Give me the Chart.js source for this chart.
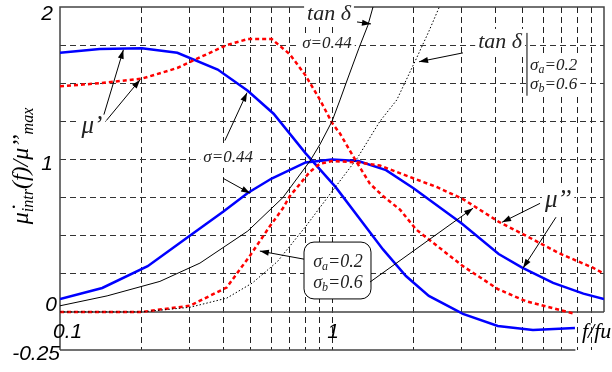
<!DOCTYPE html>
<html>
<head>
<meta charset="utf-8">
<script src="https://cdn.jsdelivr.net/npm/chart.js@4/dist/chart.umd.min.js"></script>
<style>
html, body { margin: 0; padding: 0; background: #fff; }
#wrap { width: 612px; height: 372px; }
</style>
</head>
<body>
<div id="wrap"><canvas id="chart" width="612" height="372"></canvas></div>
<script>
// sigma = 0.44 : mu' (blue), mu'' (blue), tan delta (thin black)
const xReal044 = [0.1, 0.14, 0.2, 0.27, 0.38, 0.49, 0.61, 0.8, 1.03, 1.54, 1.87, 2.27, 3.03, 4.07, 5.48, 7.82];
const muReal044 = [1.70, 1.725, 1.73, 1.70, 1.59, 1.45, 1.30, 1.04, 0.82, 0.41, 0.235, 0.105, -0.013, -0.092, -0.118, -0.105];

const xImag044 = [0.1, 0.143, 0.21, 0.3, 0.4, 0.49, 0.6, 0.8, 1.0, 1.25, 1.58, 2.0, 3.0, 4.1, 5.0, 6.5, 8.4, 10];
const muImag044 = [0.085, 0.157, 0.30, 0.50, 0.66, 0.78, 0.875, 0.98, 1.0, 0.99, 0.93, 0.81, 0.58, 0.38, 0.29, 0.19, 0.12, 0.085];

const xTan044 = [0.1, 0.149, 0.233, 0.327, 0.49, 0.66, 0.83, 0.904, 1.0, 1.07, 1.126, 1.256, 1.355, 1.415, 1.5];
const tan044 = [0.04, 0.105, 0.2, 0.32, 0.53, 0.75, 0.99, 1.10, 1.25, 1.39, 1.5, 1.73, 1.88, 2.0, 2.15];

// sigma_a = 0.2, sigma_b = 0.6 : mu' (red), mu'' (red), tan delta (dotted black)
const xRealAB = [0.1, 0.14, 0.2, 0.27, 0.327, 0.41, 0.49, 0.6, 0.7, 0.8, 0.904, 1.0, 1.07, 1.215, 1.38, 1.54, 1.78, 2.04, 3.03, 4.07, 5.16, 7.82];
const muRealAB = [1.48, 1.50, 1.53, 1.60, 1.67, 1.75, 1.79, 1.79, 1.69, 1.55, 1.39, 1.24, 1.17, 1.0, 0.84, 0.76, 0.67, 0.54, 0.30, 0.15, 0.07, -0.013];

const xImagAB = [0.1, 0.2, 0.3, 0.41, 0.5, 0.59, 0.66, 0.7, 0.763, 0.83, 0.9, 1.0, 1.25, 1.5, 2.0, 2.42, 3.03, 4.11, 5.16, 6.83, 9.1, 9.9];
const muImagAB = [0, 0, 0.04, 0.16, 0.37, 0.56, 0.68, 0.76, 0.84, 0.92, 0.97, 0.99, 0.98, 0.96, 0.875, 0.82, 0.74, 0.59, 0.50, 0.385, 0.29, 0.255];

const xTanAB = [0.1, 0.2, 0.3, 0.41, 0.51, 0.63, 0.8, 1.01, 1.24, 1.5, 1.73, 2.04, 2.27, 2.55];
const tanAB = [0, 0, 0.03, 0.09, 0.19, 0.33, 0.56, 0.80, 1.01, 1.25, 1.39, 1.66, 1.84, 2.05];

// tick labels
const yTickValues = [2, 1, 0, -0.25];
const yTickText = ['2', '1', '0', '-0.25'];
const xTickValues = [0.1, 1];
const xTickText = ['0.1', '1'];

const SANS = '"Liberation Sans", Arial, sans-serif';
const SERIF = '"Liberation Serif", "Times New Roman", serif';

function pts(xs, ys) {
    return xs.map((x, i) => ({ x: x, y: ys[i] }));
}

let xGrid = [];
for (let d of [0.1, 1]) {
    for (let k = 1; k <= 9; k++) xGrid.push(+(k * d).toFixed(2));
}
xGrid.push(10);

// labels on the plot, placed in data coordinates
const notes = [
    { parts: [['μ’', 0]], x: 0.131, y: 1.216, size: 25 },
    { parts: [['σ=0.44', 0]], x: 0.415, y: 1.013, size: 17 },
    { parts: [['tan δ', 0]], x: 0.975, y: 1.954, size: 22 },
    { parts: [['σ=0.44', 0]], x: 0.958, y: 1.758, size: 17 },
    { parts: [['tan δ', 0]], x: 4.15, y: 1.771, size: 22 },
    { parts: [['σ', 0], ['a', 1], ['=0.2', 0]], x: 5.35, y: 1.614, size: 17, align: 'left' },
    { parts: [['σ', 0], ['b', 1], ['=0.6', 0]], x: 5.35, y: 1.49, size: 17, align: 'left' },
    { parts: [['μ’’', 0]], x: 6.78, y: 0.732, size: 25 }
];

const boxNotes = [
    { parts: [['σ', 0], ['a', 1], ['=0.2', 0]], x: 1.052, y: 0.327, size: 18 },
    { parts: [['σ', 0], ['b', 1], ['=0.6', 0]], x: 1.052, y: 0.19, size: 18 }
];

const arrows = [
    [0.145, 1.294, 0.171, 1.719],
    [0.148, 1.255, 0.197, 1.523],
    [0.404, 1.124, 0.487, 1.438],
    [0.398, 0.876, 0.5, 0.778],
    [1.236, 1.902, 1.391, 1.889],
    [3.03, 1.699, 2.09, 1.641],
    [0.789, 0.346, 0.543, 0.399],
    [1.38, 0.196, 3.30, 0.680],
    [5.82, 0.712, 4.22, 0.588],
    [6.66, 0.621, 5.04, 0.288]
];

function toPx(chart, x, y) {
    return [chart.scales.x.getPixelForValue(x), chart.scales.y.getPixelForValue(y)];
}

function richWidth(ctx, parts, size) {
    let w = 0;
    parts.forEach(p => {
        ctx.font = 'italic ' + (p[1] ? Math.round(size * 0.68) : size) + 'px ' + SERIF;
        w += ctx.measureText(p[0]).width;
    });
    return w;
}

function drawRich(ctx, parts, x, y, size) {
    ctx.textBaseline = 'middle';
    ctx.textAlign = 'left';
    let cx = x;
    parts.forEach(p => {
        let s = p[1] ? Math.round(size * 0.68) : size;
        ctx.font = 'italic ' + s + 'px ' + SERIF;
        ctx.fillText(p[0], cx, p[1] ? y + size * 0.25 : y);
        cx += ctx.measureText(p[0]).width;
    });
}

function noteBox(ctx, chart, n) {
    let w = richWidth(ctx, n.parts, n.size);
    let p = toPx(chart, n.x, n.y);
    let left = n.align === 'left' ? p[0] : p[0] - w / 2;
    return { left: left, top: p[1] - n.size * 0.5, w: w, h: n.size, cy: p[1] };
}

function arrow(ctx, x1, y1, x2, y2) {
    ctx.beginPath();
    ctx.moveTo(x1, y1);
    ctx.lineTo(x2, y2);
    ctx.stroke();
    let a = Math.atan2(y2 - y1, x2 - x1);
    let len = 9, hw = 3;
    ctx.beginPath();
    ctx.moveTo(x2, y2);
    ctx.lineTo(x2 - len * Math.cos(a) + hw * Math.sin(a), y2 - len * Math.sin(a) - hw * Math.cos(a));
    ctx.lineTo(x2 - len * Math.cos(a) - hw * Math.sin(a), y2 - len * Math.sin(a) + hw * Math.cos(a));
    ctx.closePath();
    ctx.fill();
}

const framePlugin = {
    id: 'frame',
    beforeDatasetsDraw(chart) {
        const ctx = chart.ctx;
        const a = chart.chartArea;
        const y0 = chart.scales.y.getPixelForValue(0);
        const xEnd = chart.scales.x.getPixelForValue(7.85);
        ctx.save();
        ctx.strokeStyle = '#444';
        ctx.lineWidth = 1.5;
        ctx.beginPath();
        ctx.moveTo(a.left, a.bottom);
        ctx.lineTo(a.left, a.top);
        ctx.lineTo(a.right, a.top);
        ctx.lineTo(a.right, y0);
        ctx.moveTo(a.left, y0);
        ctx.lineTo(a.right, y0);
        ctx.moveTo(a.left, a.bottom);
        ctx.lineTo(xEnd, a.bottom);
        ctx.stroke();

        // white patches behind labels
        ctx.fillStyle = '#fff';
        notes.forEach(n => {
            let b = noteBox(ctx, chart, n);
            ctx.fillRect(b.left - 3, b.top - 2, b.w + 6, b.h + 4);
        });
        ctx.restore();
    },
    afterDatasetsDraw(chart) {
        const ctx = chart.ctx;
        ctx.save();

        // rounded label box
        let p1 = toPx(chart, 0.789, 0.458);
        let p2 = toPx(chart, 1.391, 0.085);
        ctx.fillStyle = '#fff';
        ctx.strokeStyle = '#000';
        ctx.lineWidth = 1;
        ctx.beginPath();
        ctx.roundRect(p1[0], p1[1], p2[0] - p1[0], p2[1] - p1[1], 10);
        ctx.fill();
        ctx.stroke();

        ctx.fillStyle = '#000';
        ctx.strokeStyle = '#000';
        ctx.lineWidth = 1;
        arrows.forEach(r => {
            let s = toPx(chart, r[0], r[1]);
            let e = toPx(chart, r[2], r[3]);
            arrow(ctx, s[0], s[1], e[0], e[1]);
        });

        ctx.fillStyle = '#222';
        notes.forEach(n => {
            let b = noteBox(ctx, chart, n);
            drawRich(ctx, n.parts, b.left, b.cy, n.size);
        });
        boxNotes.forEach(n => {
            let b = noteBox(ctx, chart, n);
            drawRich(ctx, n.parts, b.left, b.cy, n.size);
        });

        // bar next to the right tan delta label
        let bt = toPx(chart, 5.21, 1.83);
        let bb = toPx(chart, 5.21, 1.418);
        ctx.beginPath();
        ctx.moveTo(bt[0], bt[1]);
        ctx.lineTo(bb[0], bb[1]);
        ctx.stroke();

        // tick labels
        ctx.fillStyle = '#000';
        ctx.font = 'italic 21px ' + SANS;
        ctx.textBaseline = 'alphabetic';
        ctx.textAlign = 'right';
        const yShift = [13, 11, -1, 10];
        const yRight = [53, 53, 57, 60];
        yTickValues.forEach((v, i) => {
            ctx.fillText(yTickText[i], yRight[i], chart.scales.y.getPixelForValue(v) + yShift[i]);
        });
        const yx = chart.scales.y.getPixelForValue(0) + 26;
        ctx.textAlign = 'left';
        ctx.fillText(xTickText[0], chart.scales.x.getPixelForValue(xTickValues[0]) - 7, yx);
        ctx.textAlign = 'center';
        ctx.fillText(xTickText[1], chart.scales.x.getPixelForValue(xTickValues[1]) + 1, yx);
        ctx.textAlign = 'left';
        ctx.font = 'italic 22px ' + SERIF;
        ctx.fillText('f/fu', chart.scales.x.getPixelForValue(8.3), yx);

        // rotated axis title
        const parts = [['μ̇', 0], ['intr', 1], ['(f)/μ', 0], ['’’', 0], ['max', 1]];
        const size = 24;
        const sub = 16;
        let w = 0;
        parts.forEach(p => {
            ctx.font = 'italic ' + (p[1] ? sub : size) + 'px ' + SERIF;
            w += ctx.measureText(p[0]).width;
        });
        ctx.translate(28, 166);
        ctx.rotate(-Math.PI / 2);
        ctx.textAlign = 'left';
        let cx = -w / 2;
        parts.forEach(p => {
            ctx.font = 'italic ' + (p[1] ? sub : size) + 'px ' + SERIF;
            ctx.fillText(p[0], cx, p[1] ? 5 : 0);
            cx += ctx.measureText(p[0]).width;
        });
        ctx.restore();
    }
};

const line = (xs, ys, color, width, dash) => ({
    data: pts(xs, ys),
    showLine: true,
    borderColor: color,
    borderWidth: width,
    borderDash: dash,
    pointRadius: 0,
    fill: false
});

new Chart(document.getElementById('chart'), {
    type: 'scatter',
    data: {
        datasets: [
            line(xTanAB, tanAB, '#000', 1, [1.5, 2]),
            line(xTan044, tan044, '#000', 1, []),
            line(xImagAB, muImagAB, '#ff0000', 2.5, [4, 3]),
            line(xRealAB, muRealAB, '#ff0000', 2.5, [4, 3]),
            line(xReal044, muReal044, '#0000ff', 2.5, []),
            line(xImag044, muImag044, '#0000ff', 2.5, [])
        ]
    },
    options: {
        responsive: false,
        animation: false,
        devicePixelRatio: 1,
        layout: { padding: { left: 60, right: 8, top: 7, bottom: 22 } },
        plugins: {
            legend: { display: false },
            tooltip: { enabled: false }
        },
        scales: {
            x: {
                type: 'logarithmic',
                min: 0.1,
                max: 10,
                afterBuildTicks: scale => {
                    scale.ticks = xGrid.map(v => ({ value: v }));
                },
                ticks: { display: false },
                grid: {
                    drawTicks: false,
                    lineWidth: 1,
                    color: c => (c.tick && (c.tick.value === 0.1 || c.tick.value === 10)) ? 'rgba(0,0,0,0)' : '#222'
                },
                border: { display: false, dash: [6, 4] }
            },
            y: {
                min: -0.25,
                max: 2,
                ticks: { display: false, stepSize: 0.25 },
                grid: {
                    drawTicks: false,
                    lineWidth: 1,
                    color: c => (c.tick && (c.tick.value <= 0 || c.tick.value >= 2)) ? 'rgba(0,0,0,0)' : '#333'
                },
                border: { display: false, dash: [6, 4] }
            }
        }
    },
    plugins: [framePlugin]
});
</script>
</body>
</html>
